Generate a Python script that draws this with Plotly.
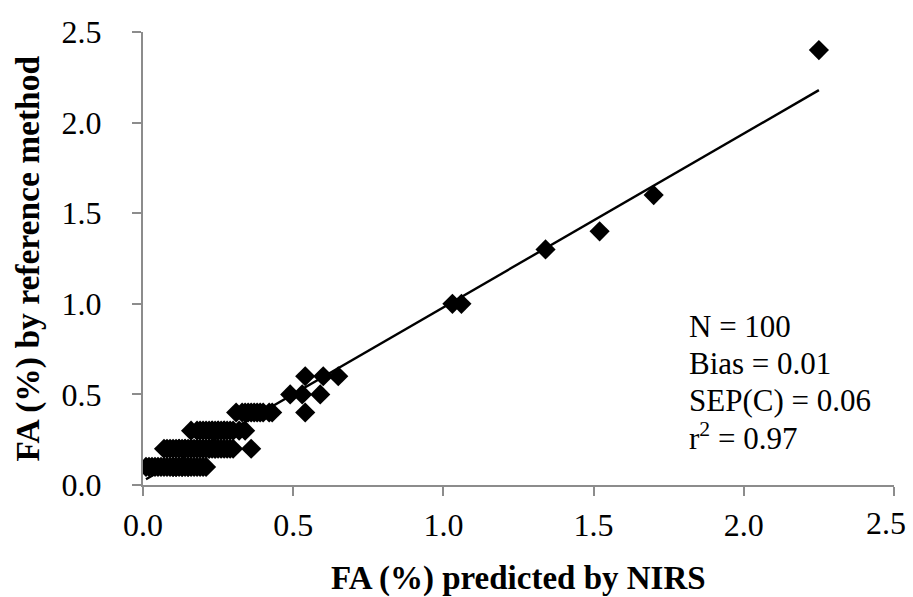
import numpy as np
import plotly.graph_objects as go

# Data (predicted by NIRS vs. reference method), N = 100
x_pred = [
    # y = 0.1
    0.01, 0.02, 0.03, 0.04, 0.05, 0.06, 0.07, 0.08, 0.09, 0.10, 0.10, 0.11, 0.11,
    0.12, 0.13, 0.13, 0.14, 0.15, 0.15, 0.16, 0.17, 0.18, 0.19, 0.20, 0.21,
    # y = 0.2
    0.07, 0.08, 0.09, 0.10, 0.11, 0.12, 0.12, 0.13, 0.14, 0.14, 0.15, 0.16, 0.16,
    0.17, 0.18, 0.18, 0.19, 0.20, 0.20, 0.21, 0.22, 0.22, 0.23, 0.24, 0.24, 0.25,
    0.26, 0.27, 0.28, 0.29, 0.30, 0.36,
    # y = 0.3
    0.16, 0.18, 0.19, 0.20, 0.21, 0.22, 0.23, 0.23, 0.24, 0.25, 0.25, 0.26, 0.27,
    0.27, 0.28, 0.29, 0.30, 0.32, 0.34,
    # y = 0.4
    0.31, 0.33, 0.34, 0.35, 0.36, 0.37, 0.38, 0.39, 0.40, 0.42, 0.43, 0.54,
    # y = 0.5
    0.49, 0.53, 0.59,
    # y = 0.6
    0.54, 0.60, 0.65,
    # high values
    1.03, 1.06, 1.34, 1.52, 1.70, 2.25,
]
y_ref = (
    [0.1] * 25
    + [0.2] * 32
    + [0.3] * 19
    + [0.4] * 12
    + [0.5] * 3
    + [0.6] * 3
    + [1.0, 1.0, 1.3, 1.4, 1.6, 2.4]
)

axis_ticks = [0.0, 0.5, 1.0, 1.5, 2.0, 2.5]
tick_text = ["0.0", "0.5", "1.0", "1.5", "2.0", "2.5"]
stats_text = ["N = 100", "Bias = 0.01", "SEP(C) = 0.06", "r<sup>2</sup> = 0.97"]
stats_y = [0.872, 0.668, 0.464, 0.265]
x_title = "FA (%) predicted by NIRS"
y_title = "FA (%) by reference method"

x_arr = np.array(x_pred)
y_arr = np.array(y_ref)
slope, intercept = np.polyfit(x_arr, y_arr, 1)
x_line = np.array([x_arr.min(), x_arr.max()])
y_line = slope * x_line + intercept

FONT = "Liberation Serif, Times New Roman, serif"
AXIS_COLOR = "#8c8c8c"

fig = go.Figure()
fig.add_trace(go.Scatter(
    x=x_line, y=y_line, mode="lines",
    line=dict(color="black", width=2.4),
    showlegend=False, hoverinfo="skip",
))
fig.add_trace(go.Scatter(
    x=x_pred, y=y_ref, mode="markers",
    marker=dict(symbol="diamond", size=15.5, color="black", line=dict(width=0)),
    showlegend=False,
))

for txt, ty in zip(stats_text, stats_y):
    fig.add_annotation(
        x=1.81, y=ty, xref="x", yref="y",
        text=txt,
        showarrow=False, xanchor="left", yanchor="middle", align="left",
        font=dict(family=FONT, size=31, color="black"),
    )
fig.add_annotation(
    x=0.5, y=0, xref="paper", yref="paper", yshift=-93,
    text="<b>" + x_title + "</b>",
    showarrow=False, xanchor="center", yanchor="middle",
    font=dict(family=FONT, size=33, color="black"),
)
fig.add_annotation(
    x=0, y=0.5, xref="paper", yref="paper", xshift=-116,
    text="<b>" + y_title + "</b>", textangle=-90,
    showarrow=False, xanchor="center", yanchor="middle",
    font=dict(family=FONT, size=33.5, color="black"),
)
# last x tick label, nudged left so it stays inside the canvas (as in the reference)
fig.add_annotation(
    x=axis_ticks[-1], y=0, xref="x", yref="paper", xshift=-8, yshift=-38,
    text=tick_text[-1], showarrow=False, xanchor="center", yanchor="middle",
    font=dict(family=FONT, size=32, color="black"),
)

axis_common = dict(
    range=[0, 2.5],
    tickvals=axis_ticks,
    showgrid=False, zeroline=False, automargin=False,
    showline=True, linecolor=AXIS_COLOR, linewidth=2,
    ticks="outside", ticklen=9, tickwidth=2, tickcolor=AXIS_COLOR,
    tickfont=dict(family=FONT, size=32, color="black"),
)

fig.update_layout(
    width=913, height=597,
    margin=dict(l=143, r=19, t=32, b=112),
    paper_bgcolor="white", plot_bgcolor="white",
    xaxis=dict(**axis_common, ticktext=tick_text[:-1] + [""], ticklabelstandoff=2),
    yaxis=dict(**axis_common, ticktext=tick_text, ticklabelstandoff=24),
)

fig.write_html(
    "out.html",
    config={"displayModeBar": False},
    post_script="document.body.style.margin='0';document.body.style.overflow='hidden';",
)
